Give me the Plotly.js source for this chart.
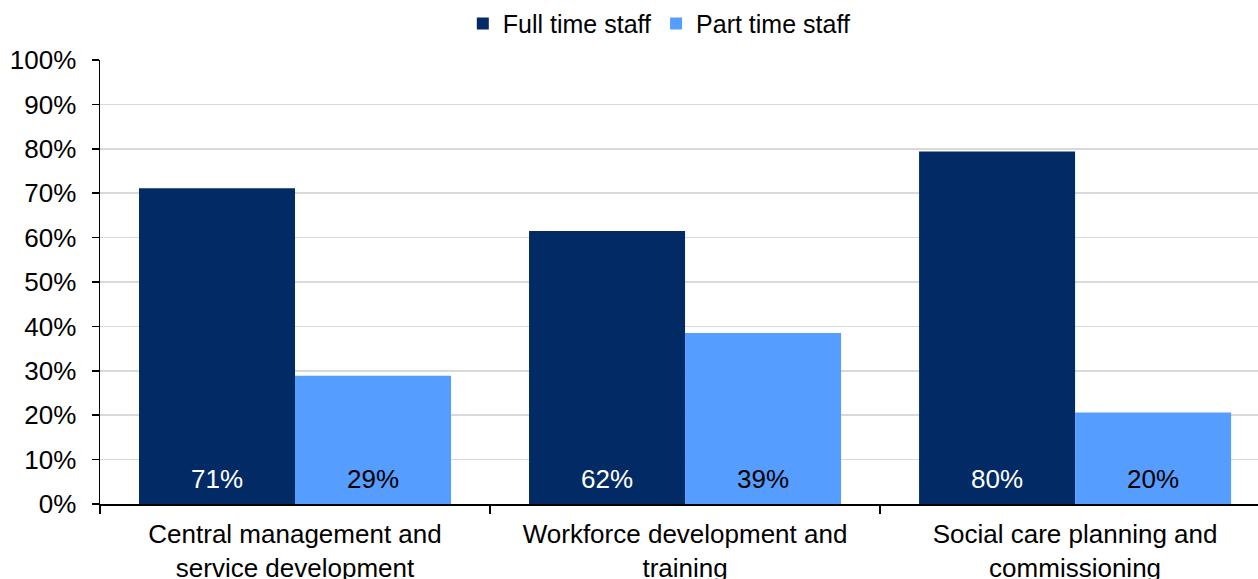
<!DOCTYPE html>
<html>
<head>
<meta charset="utf-8">
<script src="https://cdn.plot.ly/plotly-3.0.1.min.js"></script>
<style>html,body{margin:0;padding:0;background:#fff;}#chart{width:1258px;height:579px;}</style>
</head>
<body>
<div id="chart"></div>
<script>
const categories = ["Central management and<br>service development", "Workforce development and<br>training", "Social care planning and<br>commissioning"];
const fullTime = [71.1, 61.5, 79.4];
const partTime = [28.9, 38.5, 20.6];
const fullLabels = ["71%", "62%", "80%"];
const partLabels = ["29%", "39%", "20%"];

const FONT = 'Liberation Sans, Arial, sans-serif';
const traces = [
  {type: 'bar', name: 'Full time staff', x: categories, y: fullTime,
   marker: {color: '#022B66'}, hoverinfo: 'none'},
  {type: 'bar', name: 'Part time staff', x: categories, y: partTime,
   marker: {color: '#559DFF'}, hoverinfo: 'none'}
];

const annotations = [];
categories.forEach((c, i) => {
  annotations.push({xref: 'x', yref: 'y', x: i - 0.2, y: 0, yanchor: 'bottom', yshift: 8,
    text: fullLabels[i], showarrow: false, font: {family: FONT, size: 26, color: '#ffffff'}});
  annotations.push({xref: 'x', yref: 'y', x: i + 0.2, y: 0, yanchor: 'bottom', yshift: 8,
    text: partLabels[i], showarrow: false, font: {family: FONT, size: 26, color: '#000000'}});
});

const layout = {
  width: 1258, height: 579,
  margin: {l: 100, r: 0, t: 60, b: 75},
  paper_bgcolor: '#ffffff', plot_bgcolor: '#ffffff',
  font: {family: FONT, size: 26, color: '#000000'},
  barmode: 'group', bargap: 0.2, bargroupgap: 0,
  showlegend: true,
  legend: {orientation: 'h', x: 0.483, xanchor: 'center', y: 1.03, yanchor: 'bottom',
           font: {family: FONT, size: 25, color: '#000'}, itemwidth: 30, entrywidth: 0},
  xaxis: {type: 'category', range: [-0.5, 2.469], tickson: 'boundaries', ticks: 'outside',
          ticklen: 8, tickcolor: '#000', tickwidth: 1.5, showline: true, linecolor: '#000', linewidth: 1.5,
          showgrid: false, tickfont: {family: FONT, size: 26}, automargin: false, fixedrange: true,
          ticklabelstandoff: 6},
  yaxis: {range: [0, 100], dtick: 10, ticksuffix: '%', ticks: 'outside', ticklen: 7, tickcolor: '#000',
          tickwidth: 1.5, showline: true, linecolor: '#000', linewidth: 1.5, showgrid: true,
          gridcolor: '#D9D9D9', gridwidth: 1.5, zeroline: false, ticklabelstandoff: 10,
          tickfont: {family: FONT, size: 26}, automargin: false, fixedrange: true},
  annotations: annotations
};

Plotly.newPlot('chart', traces, layout, {displayModeBar: false, staticPlot: true});
</script>
</body>
</html>
